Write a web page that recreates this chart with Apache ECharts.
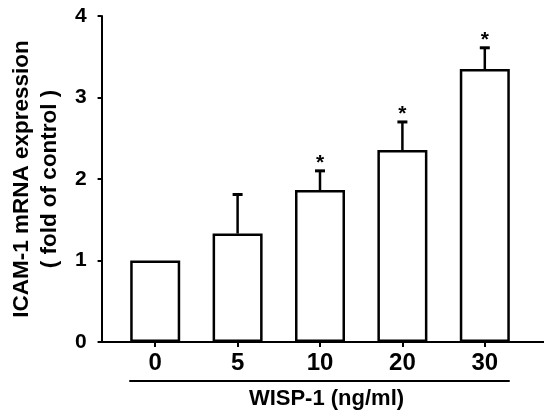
<!DOCTYPE html>
<html>
<head>
<meta charset="utf-8">
<script src="https://cdn.jsdelivr.net/npm/echarts@6/dist/echarts.min.js"></script>
<style>
html, body { margin: 0; padding: 0; background: #fff; }
#chart { width: 544px; height: 416px; }
</style>
</head>
<body>
<div id="chart"></div>
<script>
// WISP-1 dose (ng/ml)
var doses = ['0', '5', '10', '20', '30'];
// ICAM-1 mRNA, fold of control
var means = [1.0, 1.33, 1.865, 2.355, 3.35];
// upper error (SD)
var errors = [0, 0.48, 0.235, 0.345, 0.26];
// significant vs control
var signif = [false, false, true, true, true];
var yTicks = [0, 1, 2, 3, 4];

var font = 'Liberation Sans, Arial, sans-serif';
var chart = echarts.init(document.getElementById('chart'));

var errData = means.map(function (m, i) { return [i, m, m + errors[i], signif[i] ? 1 : 0]; });

var option = {
    backgroundColor: '#fff',
    animation: false,
    textStyle: { fontFamily: font, color: '#000' },
    grid: [
        { left: 92, right: 0, top: 16, bottom: 74 },
        { left: 114, right: 18, top: 16, bottom: 74 },
        { left: 130, right: 35, top: 16, bottom: 74 }
    ],
    xAxis: [{
        gridIndex: 0, type: 'value', min: 0, max: 1,
        axisLine: { show: true, onZero: false, lineStyle: { color: '#000', width: 2 } },
        axisTick: { show: false }, axisLabel: { show: false }, splitLine: { show: false }
    }, {
        gridIndex: 1, type: 'category', data: doses,
        axisLine: { show: false },
        axisTick: { show: true, alignWithLabel: true, length: 5, lineStyle: { color: '#000', width: 2 } },
        axisLabel: { fontSize: 24, fontWeight: 'bold', color: '#000', margin: 9, fontFamily: font }
    }, {
        gridIndex: 2, type: 'value', min: 0, max: 1, offset: 39,
        axisLine: { show: true, onZero: false, lineStyle: { color: '#000', width: 2 } },
        axisTick: { show: false }, axisLabel: { show: false }, splitLine: { show: false },
        name: 'WISP-1 (ng/ml)', nameLocation: 'middle', nameGap: 7,
        nameTextStyle: { fontSize: 22, fontWeight: 'bold', color: '#000', fontFamily: font, padding: [0, 0, 0, 14] }
    }],
    yAxis: [{
        gridIndex: 0, type: 'value', min: 0, max: 4, interval: 1,
        axisLine: { show: true, onZero: false, lineStyle: { color: '#000', width: 2 } },
        axisTick: { show: true, length: 4, lineStyle: { color: '#000', width: 2 } },
        axisLabel: { fontSize: 21, fontWeight: 'bold', color: '#000', margin: 15, fontFamily: font },
        splitLine: { show: false },
        name: 'ICAM-1 mRNA expression\n( fold of control )',
        nameLocation: 'middle', nameRotate: 90, nameGap: 26,
        nameTextStyle: { fontSize: 22.5, fontWeight: 'bold', lineHeight: 28, color: '#000', fontFamily: font }
    }, {
        gridIndex: 1, type: 'value', min: 0, max: 4, show: false
    }, {
        gridIndex: 2, type: 'value', min: 0, max: 4, show: false
    }],
    series: [{
        type: 'bar', xAxisIndex: 1, yAxisIndex: 1,
        data: means, barWidth: 50,
        itemStyle: { color: '#fff', borderColor: '#000', borderWidth: 2.5 }
    }, {
        type: 'custom', xAxisIndex: 1, yAxisIndex: 1,
        data: errData,
        renderItem: function (params, api) {
            var x = api.value(0);
            var base = api.coord([x, api.value(1)]);
            var top = api.coord([x, api.value(2)]);
            var kids = [];
            if (api.value(2) > api.value(1)) {
                kids.push({ type: 'line', shape: { x1: base[0], y1: base[1], x2: top[0], y2: top[1] },
                    style: { stroke: '#000', lineWidth: 2.5 } });
                kids.push({ type: 'line', shape: { x1: top[0] - 5, y1: top[1], x2: top[0] + 5, y2: top[1] },
                    style: { stroke: '#000', lineWidth: 3 } });
            }
            if (api.value(3)) {
                kids.push({ type: 'text', style: { text: '*', x: top[0], y: top[1] - 8,
                    align: 'center', verticalAlign: 'middle', fontSize: 21, fontWeight: 'bold', fontFamily: font, fill: '#000' } });
            }
            return { type: 'group', children: kids };
        }
    }]
};
chart.setOption(option);
</script>
</body>
</html>
